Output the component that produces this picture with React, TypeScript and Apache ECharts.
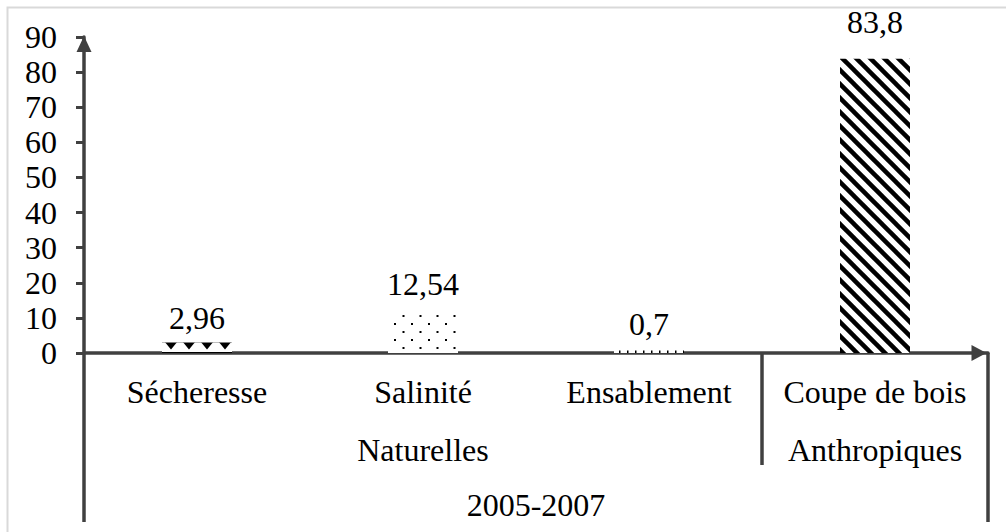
import React, { useEffect, useRef } from "react";
import * as echarts from "echarts";

const categories: string[] = ["Sécheresse", "Salinité", "Ensablement", "Coupe de bois"];
const values: number[] = [2.96, 12.54, 0.7, 83.8];
const groupLabels: string[] = ["Naturelles", "Anthropiques"];
const groupSpans: number[] = [3, 1];
const periodLabel = "2005-2007";
const yMax = 90;
const yInterval = 10;

const W = 1006;
const H = 532;
const GRID_LEFT = 84;
const GRID_RIGHT_X = 988;
const GRID_TOP = 37;
const AXIS_Y = 353;
const FONT = "'Liberation Serif', 'Times New Roman', serif";
const FS = 32;
const AXIS_COLOR = "#404040";

function makePattern(w: number, h: number, draw: (ctx: CanvasRenderingContext2D) => void, extra: any = {}) {
  const c = document.createElement("canvas");
  c.width = w;
  c.height = h;
  const ctx = c.getContext("2d")!;
  ctx.fillStyle = "#ffffff";
  ctx.fillRect(0, 0, w, h);
  ctx.fillStyle = "#000000";
  ctx.strokeStyle = "#000000";
  draw(ctx);
  return { image: c, repeat: "repeat", imageWidth: w, imageHeight: h, ...extra };
}

export default function App() {
  const ref = useRef<HTMLDivElement>(null);
  useEffect(() => {
    if (!ref.current) return;
    const chart = echarts.init(ref.current, undefined, { renderer: "svg" });
    const gridW = GRID_RIGHT_X - GRID_LEFT;
    const gridH = AXIS_Y - GRID_TOP;
    const catW = gridW / categories.length;
    const barTop = (v: number) => AXIS_Y - (v / yMax) * gridH;

    const triangles = makePattern(18, 11, (ctx) => {
      ctx.fillRect(0, 0, 18, 1.5);
      ctx.beginPath();
      ctx.moveTo(2, 0);
      ctx.lineTo(16, 0);
      ctx.lineTo(9, 8.5);
      ctx.closePath();
      ctx.fill();
    }, { x: 0, y: barTop(values[0]) });
    const dots = makePattern(17, 16, (ctx) => {
      ctx.fillRect(3, 3, 2, 2);
      ctx.fillRect(11.5, 11, 2, 2);
    });
    const ticks = makePattern(8, 4, (ctx) => {
      ctx.fillRect(3, 0, 1.5, 4);
    });
    const hatch = makePattern(14, 14, (ctx) => {
      ctx.lineWidth = 4.5;
      for (const k of [-14, 0, 14]) {
        ctx.beginPath();
        ctx.moveTo(k - 3, -3);
        ctx.lineTo(k + 17, 17);
        ctx.stroke();
      }
    });
    const patterns = [triangles, dots, ticks, hatch];
    const distances = [9, 9, 11, 21];

    const graphics: any[] = [
      {
        type: "rect",
        shape: { x: 7.5, y: 7.5, width: 1010, height: 540 },
        style: { fill: "none", stroke: "#d9d9d9", lineWidth: 2 },
        silent: true,
      },
      {
        type: "line",
        shape: { x1: GRID_LEFT, y1: AXIS_Y, x2: GRID_LEFT, y2: 522 },
        style: { stroke: AXIS_COLOR, lineWidth: 3.5 },
      },
      {
        type: "line",
        shape: { x1: GRID_RIGHT_X, y1: AXIS_Y, x2: GRID_RIGHT_X, y2: 522 },
        style: { stroke: AXIS_COLOR, lineWidth: 3.5 },
      },
    ];
    let start = 0;
    groupSpans.forEach((span, i) => {
      const x0 = GRID_LEFT + start * catW;
      const x1 = GRID_LEFT + (start + span) * catW;
      graphics.push({
        type: "text",
        x: (x0 + x1) / 2,
        y: 450,
        style: { text: groupLabels[i], font: `${FS}px ${FONT}`, fill: "#000", align: "center", verticalAlign: "middle" },
      });
      if (start + span < categories.length) {
        graphics.push({
          type: "line",
          shape: { x1: x1, y1: AXIS_Y, x2: x1, y2: 465 },
          style: { stroke: AXIS_COLOR, lineWidth: 3.5 },
        });
      }
      start += span;
    });
    graphics.push({
      type: "text",
      x: GRID_LEFT + gridW / 2,
      y: 505,
      style: { text: periodLabel, font: `${FS}px ${FONT}`, fill: "#000", align: "center", verticalAlign: "middle" },
    });

    chart.setOption({
      animation: false,
      backgroundColor: "#ffffff",
      grid: { left: GRID_LEFT, top: GRID_TOP, width: gridW, height: gridH, containLabel: false },
      xAxis: {
        type: "category",
        data: categories,
        axisLine: {
          show: true,
          symbol: ["none", "triangle"],
          symbolSize: [16, 15],
          symbolOffset: [0, -9],
          lineStyle: { color: AXIS_COLOR, width: 3.5 },
        },
        axisTick: { show: false },
        axisLabel: { fontSize: FS, fontFamily: FONT, color: "#000", margin: 23, interval: 0 },
        splitLine: { show: false },
      },
      yAxis: {
        type: "value",
        min: 0,
        max: yMax,
        interval: yInterval,
        axisLine: {
          show: true,
          symbol: ["none", "triangle"],
          symbolSize: [15, 16],
          symbolOffset: [0, -7],
          lineStyle: { color: AXIS_COLOR, width: 3.5 },
        },
        axisTick: { show: true, length: 8, lineStyle: { color: AXIS_COLOR, width: 3 } },
        axisLabel: { fontSize: FS, fontFamily: FONT, color: "#000", margin: 27 },
        splitLine: { show: false },
      },
      series: [
        {
          type: "bar",
          barWidth: 70,
          data: values.map((v, i) => ({
            value: v,
            itemStyle: { color: patterns[i] },
            label: { distance: distances[i] },
          })),
          label: {
            show: true,
            position: "top",
            fontSize: FS,
            fontFamily: FONT,
            color: "#000",
            formatter: (p: any) => String(p.value).replace(".", ","),
          },
        },
      ],
      graphic: graphics,
    });
    return () => chart.dispose();
  }, []);
  return (
    <div
      ref={ref}
      style={{ position: "absolute", left: 0, top: 0, width: W, height: H, overflow: "hidden" }}
    />
  );
}
